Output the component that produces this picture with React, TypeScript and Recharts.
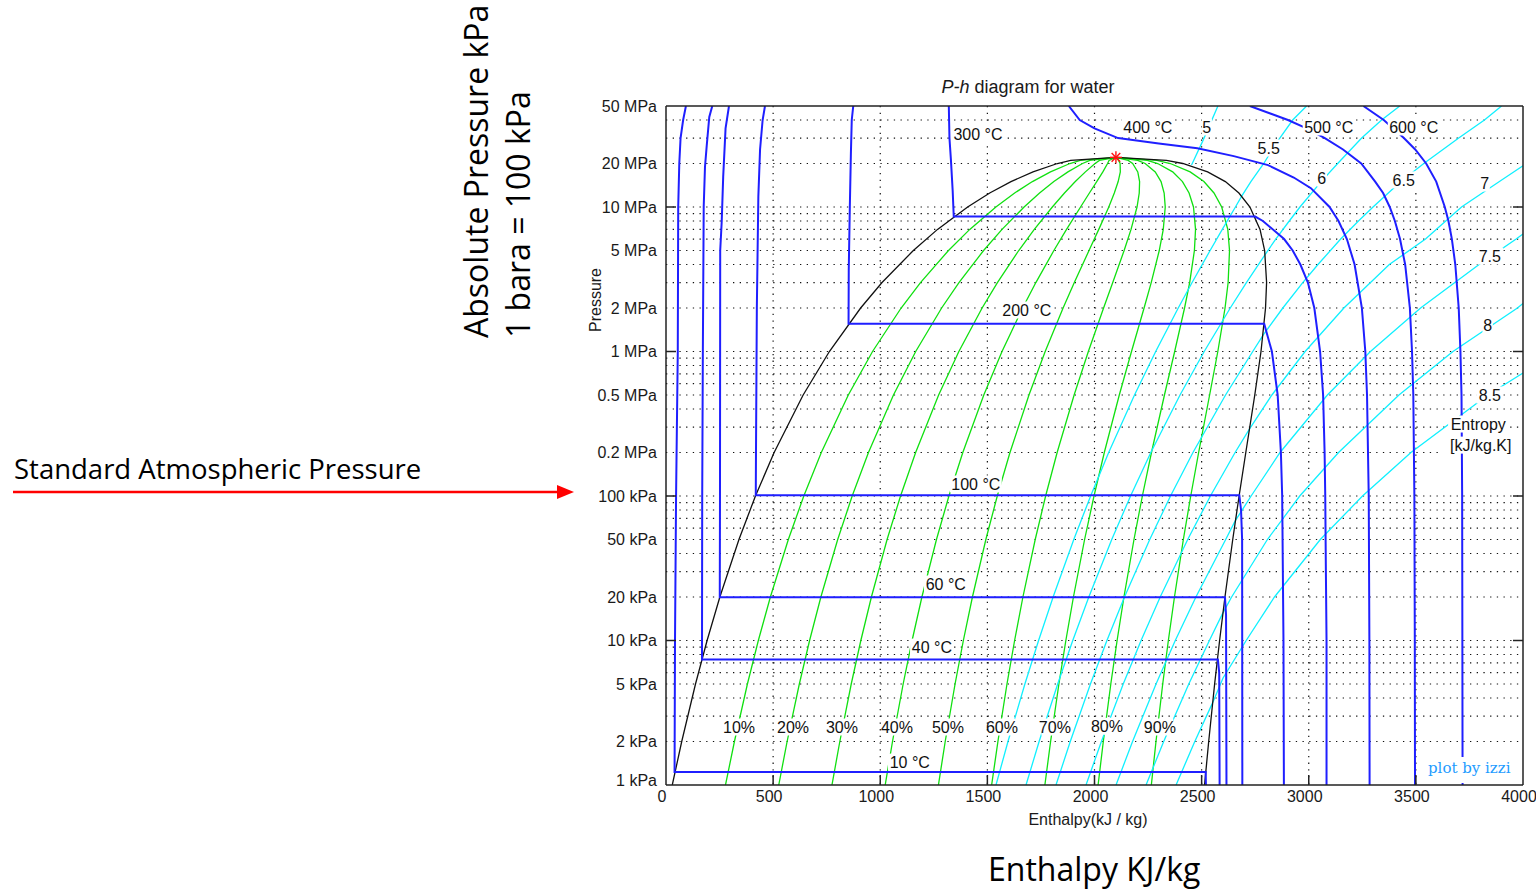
import React from "react";
import { LineChart, Line, XAxis, YAxis, CartesianGrid, ReferenceDot } from "recharts";

// ---------- axis ticks ----------
const X_TICKS = [0, 500, 1000, 1500, 2000, 2500, 3000, 3500, 4000];
const X_TOP_TICKS = [500, 1000, 1500, 2000, 2500, 3000, 3500];
const Y_TICKS = [1, 2, 5, 10, 20, 50, 100, 200, 500, 1000, 2000, 5000, 10000, 20000, 50000];
const Y_TICK_LABELS = [
  "1 kPa", "2 kPa", "5 kPa", "10 kPa", "20 kPa", "50 kPa", "100 kPa",
  "0.2 MPa", "0.5 MPa", "1 MPa", "2 MPa", "5 MPa", "10 MPa", "20 MPa", "50 MPa",
];
const Y_MAJOR = [10, 100, 1000, 10000];
const GRID_X = [500, 1000, 1500, 2000, 2500, 3000, 3500];
const GRID_Y = [
  2, 3, 4, 5, 6, 7, 8, 9, 10, 20, 30, 40, 50, 60, 70, 80, 90, 100, 200, 300, 400, 500, 600, 700, 800, 900,
  1000, 2000, 3000, 4000, 5000, 6000, 7000, 8000, 9000, 10000, 20000, 30000, 40000,
];

// ---------- saturation dome (kPa, kJ/kg) ----------
const SAT_P = [1, 2, 5, 10, 20, 50, 100, 200, 500, 1000, 2000, 3000, 5000, 7000, 10000, 12500, 15000, 17500, 20000, 21000, 22064];
const SAT_HF = [29.3, 73.4, 137.7, 191.8, 251.4, 340.5, 417.5, 504.7, 640.1, 762.5, 908.5, 1008.3, 1154.5, 1267.4, 1407.9, 1511, 1610.2, 1713, 1827, 1889, 2100];
const SAT_HG = [2513.7, 2533.0, 2560.7, 2583.9, 2608.9, 2645.2, 2674.9, 2706.2, 2748.1, 2777.1, 2798.3, 2803.2, 2794.2, 2772.6, 2725.5, 2674, 2610.7, 2528, 2412, 2336, 2100];
const CRIT_H = 2100;
const CRIT_P = 22064;

// ---------- constant-quality lines (h at SAT_P) ----------
const Q10 = [277.7, 319.4, 380.0, 431.0, 487.2, 571.0, 643.2, 724.9, 850.9, 964.0, 1097.5, 1187.8, 1318.5, 1417.9, 1539.7, 1627.3, 1710.3, 1794.5, 1885.5, 1933.7, 2100];
const Q20 = [526.2, 565.3, 622.3, 670.2, 722.9, 801.4, 869.0, 945.0, 1061.7, 1165.4, 1286.5, 1367.3, 1482.4, 1568.4, 1671.4, 1743.6, 1810.3, 1876.0, 1944.0, 1978.4, 2100];
const Q30 = [774.6, 811.3, 864.6, 909.4, 958.7, 1031.9, 1094.7, 1165.2, 1272.5, 1366.9, 1475.4, 1546.8, 1646.4, 1719.0, 1803.2, 1859.9, 1910.4, 1957.5, 2002.5, 2023.1, 2100];
const Q40 = [1023.1, 1057.2, 1106.9, 1148.6, 1194.4, 1262.4, 1320.5, 1385.3, 1483.3, 1568.3, 1664.4, 1726.3, 1810.4, 1869.5, 1934.9, 1976.2, 2010.4, 2039.0, 2061.0, 2067.8, 2100];
const Q50 = [1271.5, 1303.2, 1349.2, 1387.9, 1430.2, 1492.9, 1546.2, 1605.5, 1694.1, 1769.8, 1853.4, 1905.8, 1974.4, 2020.0, 2066.7, 2092.5, 2110.5, 2120.5, 2119.5, 2112.5, 2100];
const Q60 = [1519.9, 1549.2, 1591.5, 1627.1, 1665.9, 1723.3, 1771.9, 1825.6, 1904.9, 1971.3, 2042.4, 2085.2, 2138.3, 2170.5, 2198.5, 2208.8, 2210.5, 2202.0, 2178.0, 2157.2, 2100];
const Q70 = [1768.4, 1795.1, 1833.8, 1866.3, 1901.7, 1953.8, 1997.7, 2045.8, 2115.7, 2172.7, 2231.4, 2264.7, 2302.3, 2321.0, 2330.2, 2325.1, 2310.6, 2283.5, 2236.5, 2201.9, 2100];
const Q80 = [2016.8, 2041.1, 2076.1, 2105.5, 2137.4, 2184.3, 2223.4, 2265.9, 2326.5, 2374.2, 2420.3, 2444.2, 2466.3, 2471.6, 2462.0, 2441.4, 2410.6, 2365.0, 2295.0, 2246.6, 2100];
const Q90 = [2265.3, 2287.0, 2318.4, 2344.7, 2373.2, 2414.7, 2449.2, 2486.1, 2537.3, 2575.6, 2609.3, 2623.7, 2630.2, 2622.1, 2593.7, 2557.7, 2510.7, 2446.5, 2353.5, 2291.3, 2100];

// ---------- isotherms [h kJ/kg, P kPa] ----------
const T10C: [number, number][] = [[93, 50000], [80, 40000], [68, 30000], [62, 20000], [57, 10000], [55, 1000], [47, 100], [42, 10], [40, 1.23], [2519, 1.23], [2520, 1]];
const T40C: [number, number][] = [[216, 50000], [202, 42000], [190, 26500], [182, 19000], [176, 10000], [172, 1000], [169, 100], [168, 7.38], [2576, 7.38], [2582, 6], [2584, 1]];
const T60C: [number, number][] = [[294, 50000], [278, 35000], [267, 16300], [260, 7900], [253, 5000], [252, 100], [251, 19.95], [2609, 19.95], [2614, 15], [2616, 1]];
const T100C: [number, number][] = [[462, 50000], [451, 40000], [439, 25000], [431, 11800], [424, 2000], [420, 200], [419, 101.4], [2676, 101.4], [2684, 80], [2689, 50], [2690, 1]];
const T200C: [number, number][] = [[874, 50000], [867, 40000], [863, 23600], [858, 10000], [853, 3700], [852, 1555], [2792, 1555], [2828, 1000], [2855, 500], [2870, 200], [2876, 100], [2882, 10], [2884, 1]];
const T300C: [number, number][] = [[1320, 50000], [1323, 30000], [1330, 21000], [1338, 13000], [1343, 8581], [2750, 8581], [2786, 8000], [2885, 6000], [2925, 5000], [2961, 4000], [2996, 3000], [3026, 2000], [3053, 1000], [3067, 500], [3074, 200], [3077, 100], [3080, 30], [3083, 10], [3083, 1]];
const T400C: [number, number][] = [[1880, 50000], [1931, 40000], [2000, 35000], [2110, 30000], [2300, 27500], [2480, 25500], [2650, 22500], [2810, 19500], [2930, 16000], [3010, 13500], [3097, 10000], [3139, 8000], [3178, 6000], [3214, 4000], [3248, 2000], [3264, 1000], [3272, 500], [3280, 100], [3283, 10], [3284, 1]];
const T500C: [number, number][] = [[2725, 50000], [2903, 40000], [2990, 35000], [3075, 30000], [3160, 25000], [3245, 20000], [3310, 15000], [3347, 12500], [3378, 10000], [3402, 8000], [3426, 6000], [3450, 4000], [3472, 2000], [3482, 1000], [3488, 500], [3493, 100], [3495, 10], [3496, 1]];
const T600C: [number, number][] = [[3255, 50000], [3350, 40000], [3444, 30000], [3497, 25000], [3548, 20000], [3595, 15000], [3635, 10000], [3652, 8000], [3668, 6000], [3684, 4000], [3700, 2000], [3708, 1000], [3713, 500], [3716, 100], [3718, 1]];

// ---------- isentropes [h kJ/kg, P kPa] ----------
const S50: [number, number][] = [[2453, 19500], [2506, 28800], [2576, 50000]];
const S55: [number, number][] = [[1540.3, 1], [1596.2, 2], [1675.1, 5], [1739.0, 10], [1806.9, 20], [1903.3, 50], [1981.9, 100], [2066.2, 200], [2186.7, 500], [2285.6, 1000], [2390.9, 2000], [2455.5, 3000], [2539.6, 5000], [2596.5, 7000], [2657.8, 10000], [2687, 11900], [2730, 15000], [2790, 20000], [2830, 25000], [2865, 30000], [2925, 40000], [2990, 50000]];
const S60: [number, number][] = [[1680.4, 1], [1741.5, 2], [1828.2, 5], [1898.5, 10], [1973.5, 20], [2080.5, 50], [2168.3, 100], [2262.9, 200], [2399.2, 500], [2512.1, 1000], [2633.7, 2000], [2709.0, 3000], [2797, 4700], [2846, 6000], [2909, 8000], [2959, 10000], [3058, 15000], [3135, 20000], [3247, 30000], [3340, 40000], [3425, 50000]];
const S65: [number, number][] = [[1820.3, 1], [1886.9, 2], [1981.1, 5], [2058.0, 10], [2140.0, 20], [2257.8, 50], [2354.8, 100], [2459.6, 200], [2611.7, 500], [2738.6, 1000], [2787, 1300], [2879, 2000], [2972, 3000], [3043, 4000], [3149, 6000], [3232, 8000], [3300, 10000], [3430, 15000], [3537, 20000], [3700, 30000], [3820, 40000], [3900, 50000]];
const S70: [number, number][] = [[1960.4, 1], [2032.2, 2], [2134.1, 5], [2217.4, 10], [2306.7, 20], [2435.0, 50], [2541.0, 100], [2656.2, 200], [2723, 290], [2828, 500], [2983, 1000], [3164, 2000], [3376, 4000], [3545, 6000], [3713, 10000], [3890, 15000], [4000, 19300]];
const S75: [number, number][] = [[2100.5, 1], [2177.6, 2], [2287.2, 5], [2377.0, 10], [2473.3, 20], [2612.3, 50], [2656, 67], [2731, 100], [2866, 200], [3087, 500], [3288, 1000], [3522, 2000], [3795, 4000], [3968, 6000], [4000, 6500]];
const S80: [number, number][] = [[2240.6, 1], [2323.0, 2], [2440.1, 5], [2536.3, 10], [2598, 15.4], [2640, 20], [2807, 50], [2958, 100], [3139, 200], [3421, 500], [3673, 1000], [3974, 2000], [4000, 2150]];
const S85: [number, number][] = [[2380.7, 1], [2468.1, 2], [2551, 3.7], [2600, 5.5], [2708, 10], [2840, 20], [3054, 50], [3251, 100], [3477, 200], [3836, 500], [4000, 710]];

// ---------- in-plot labels [text, h, P] ----------
const ISOTHERM_LABELS: [string, number, number][] = [
  ["300 °C", 1456, 32000], ["400 °C", 2249, 35800], ["500 °C", 3093, 35800], ["600 °C", 3490, 35800],
  ["200 °C", 1684, 1937], ["100 °C", 1446, 121], ["60 °C", 1306, 24.6], ["40 °C", 1241, 9.0], ["10 °C", 1138, 1.44],
];
const ENTROPY_LABELS: [string, number, number][] = [
  ["5", 2524, 35800], ["5.5", 2813, 25600], ["6", 3061, 15850], ["6.5", 3443, 15400], ["7", 3821, 14650],
  ["7.5", 3845, 4580], ["8", 3835, 1525], ["8.5", 3845, 500], ["Entropy", 3791, 315], ["[kJ/kg.K]", 3803, 225],
];
const QUALITY_LABELS: [string, number, number][] = [
  ["10%", 341, 2.52], ["20%", 593, 2.52], ["30%", 821, 2.52], ["40%", 1078, 2.52], ["50%", 1316, 2.52],
  ["60%", 1568, 2.52], ["70%", 1815, 2.52], ["80%", 2058, 2.55], ["90%", 2305, 2.52],
];

// ---------- styling ----------
const MFONT = "'Liberation Sans', Arial, sans-serif";
const PFONT = "'Open Sans', 'Noto Sans', sans-serif";
const BLUE = "#1f1fff";
const GREEN = "#10e010";
const CYAN = "#10f0ff";
const FRAME = "#222";

const pairs = (arr: [number, number][]) => arr.map(([h, p]) => ({ h, p }));
const fromSat = (hs: number[]) => hs.map((h, i) => ({ h, p: SAT_P[i] }));

const DOME = [
  ...SAT_P.map((p, i) => ({ h: SAT_HF[i], p })),
  ...SAT_P.slice(0, -1).map((p, i) => ({ h: SAT_HG[i], p })).reverse(),
];
const QUALITIES = [Q10, Q20, Q30, Q40, Q50, Q60, Q70, Q80, Q90];
const ISOTHERMS = [T10C, T40C, T60C, T100C, T200C, T300C, T400C, T500C, T600C];
const ISENTROPES = [S50, S55, S60, S65, S70, S75, S80, S85];

const LeftTick = (props: any) => {
  const { x, y, payload } = props;
  const i = Y_TICKS.indexOf(payload.value);
  const major = Y_MAJOR.includes(payload.value);
  const shift = i === 0 ? -5 : 0;
  return (
    <g>
      <text x={x - 1} y={y + shift} dy="0.36em" textAnchor="end" fontSize={16} fontFamily={MFONT} fill="#1a1a1a">
        {Y_TICK_LABELS[i]}
      </text>
      {major && <line x1={x + 8} x2={x + 18} y1={y} y2={y} stroke={FRAME} strokeWidth={1.5} />}
    </g>
  );
};
const RightTick = (props: any) => {
  const { x, y, payload } = props;
  if (!Y_MAJOR.includes(payload.value)) return <g />;
  return <line x1={x - 10} x2={x} y1={y} y2={y} stroke={FRAME} strokeWidth={1.5} />;
};
const BottomTick = (props: any) => {
  const { x, y, payload } = props;
  const v = payload.value;
  const mark = v > 0 && v < 4000;
  return (
    <g>
      {mark && <line x1={x} x2={x} y1={y - 10} y2={y} stroke={FRAME} strokeWidth={1.5} />}
      <text x={x - 4} y={y + 16.5} textAnchor="middle" fontSize={16} fontFamily={MFONT} fill="#1a1a1a">
        {v}
      </text>
    </g>
  );
};
const TopTick = (props: any) => {
  const { x, y } = props;
  return <line x1={x} x2={x} y1={y} y2={y + 10} stroke={FRAME} strokeWidth={1.5} />;
};

const makeLabel = (text: string) => (props: any) => {
  const { cx, cy } = props;
  if (cx == null || cy == null) return <g />;
  const fs = 16;
  const w = text.length * fs * 0.52 + 2;
  const hh = fs + 1;
  return (
    <g>
      <rect x={cx - w / 2} y={cy - hh / 2} width={w} height={hh} fill="#fff" />
      <text x={cx} y={cy} dy="0.36em" textAnchor="middle" fontSize={fs} fontFamily={MFONT} fill="#111">
        {text}
      </text>
    </g>
  );
};

const Asterisk = (props: any) => {
  const { cx, cy } = props;
  if (cx == null || cy == null) return <g />;
  const r = 6;
  const d = 4.3;
  return (
    <g stroke="#ff1010" strokeWidth={1.4}>
      <line x1={cx - r} x2={cx + r} y1={cy} y2={cy} />
      <line x1={cx} x2={cx} y1={cy - r} y2={cy + r} />
      <line x1={cx - d} x2={cx + d} y1={cy - d} y2={cy + d} />
      <line x1={cx - d} x2={cx + d} y1={cy + d} y2={cy - d} />
    </g>
  );
};

export default function App() {
  const allLabels = [...ISOTHERM_LABELS, ...ENTROPY_LABELS, ...QUALITY_LABELS];
  return (
    <div style={{ position: "absolute", left: 0, top: 0, width: 1536, height: 892, background: "#fff" }}>
      <LineChart width={1536} height={892} margin={{ top: 105, right: 12, bottom: 77, left: 586 }}>
        <CartesianGrid
          horizontalValues={GRID_Y}
          verticalValues={GRID_X}
          stroke="#111"
          strokeWidth={1.2}
          strokeDasharray="1.3 5.4"
        />
        <XAxis
          dataKey="h"
          type="number"
          domain={[0, 4000]}
          allowDataOverflow
          ticks={X_TICKS}
          interval={0}
          tickSize={0}
          tickMargin={0}
          height={30}
          tickLine={false}
          tick={BottomTick}
          axisLine={{ stroke: FRAME, strokeWidth: 1.5 }}
        />
        <XAxis
          xAxisId="top"
          orientation="top"
          type="number"
          domain={[0, 4000]}
          allowDataOverflow
          ticks={X_TOP_TICKS}
          interval={0}
          tickSize={0}
          tickMargin={0}
          height={1}
          tickLine={false}
          tick={TopTick}
          axisLine={{ stroke: FRAME, strokeWidth: 1.5 }}
        />
        <YAxis
          type="number"
          scale="log"
          domain={[1, 50000]}
          allowDataOverflow
          ticks={Y_TICKS}
          interval={0}
          tickSize={0}
          tickMargin={8}
          width={80}
          tickLine={false}
          tick={LeftTick}
          axisLine={{ stroke: FRAME, strokeWidth: 1.5 }}
        />
        <YAxis
          yAxisId="right"
          orientation="right"
          type="number"
          scale="log"
          domain={[1, 50000]}
          allowDataOverflow
          ticks={Y_TICKS}
          interval={0}
          tickSize={0}
          tickMargin={0}
          width={1}
          tickLine={false}
          tick={RightTick}
          axisLine={{ stroke: FRAME, strokeWidth: 1.5 }}
        />
        {QUALITIES.map((q, i) => (
          <Line key={"q" + i} data={fromSat(q)} dataKey="p" type="linear" stroke={GREEN} strokeWidth={1.3}
            dot={false} activeDot={false} isAnimationActive={false} legendType="none" />
        ))}
        {ISENTROPES.map((s, i) => (
          <Line key={"s" + i} data={pairs(s)} dataKey="p" type="linear" stroke={CYAN} strokeWidth={1.3}
            dot={false} activeDot={false} isAnimationActive={false} legendType="none" />
        ))}
        <Line data={DOME} dataKey="p" type="linear" stroke="#111" strokeWidth={1.3}
          dot={false} activeDot={false} isAnimationActive={false} legendType="none" />
        {ISOTHERMS.map((t, i) => (
          <Line key={"t" + i} data={pairs(t)} dataKey="p" type="linear" stroke={BLUE} strokeWidth={2}
            dot={false} activeDot={false} isAnimationActive={false} legendType="none" />
        ))}
        {allLabels.map(([text, h, p], i) => (
          <ReferenceDot key={"l" + i} x={h} y={p} r={0} ifOverflow="visible" shape={makeLabel(text)} />
        ))}
        <ReferenceDot x={CRIT_H} y={CRIT_P} r={0} ifOverflow="visible" shape={Asterisk} />
      </LineChart>
      <svg width={1536} height={892} style={{ position: "absolute", left: 0, top: 0, pointerEvents: "none" }}>
        <text x={1028} y={93} textAnchor="middle" fontSize={18} fontFamily={MFONT} fill="#1a1a1a">
          <tspan fontStyle="italic">P-h</tspan> diagram for water
        </text>
        <text transform="translate(601,300) rotate(-90)" textAnchor="middle" fontSize={16} fontFamily={MFONT} fill="#1a1a1a">
          Pressure
        </text>
        <text x={1088} y={825} textAnchor="middle" fontSize={16} fontFamily={MFONT} fill="#1a1a1a">
          Enthalpy(kJ / kg)
        </text>
        <rect x={1424} y={757} width={92} height={26} fill="#fff" />
        <text x={1428} y={773} fontSize={15} fontFamily="'DejaVu Serif', serif" fill="#1e9cff">
          plot by izzi
        </text>
        <text transform="translate(488,338) rotate(-90)" fontSize={32} fontFamily={PFONT} fill="#000">
          Absolute Pressure kPa
        </text>
        <text transform="translate(530,338) rotate(-90)" fontSize={32} fontFamily={PFONT} fill="#000">
          1 bara = 100 kPa
        </text>
        <text x={14} y={479} fontSize={27.5} fontFamily={PFONT} fill="#000">
          Standard Atmospheric Pressure
        </text>
        <line x1={13} y1={492} x2={560} y2={492} stroke="#ff0000" strokeWidth={2.5} />
        <polygon points="557,485 574,492 557,499" fill="#ff0000" />
        <text x={988} y={881} fontSize={32} fontFamily={PFONT} fill="#000">
          Enthalpy KJ/kg
        </text>
      </svg>
    </div>
  );
}
